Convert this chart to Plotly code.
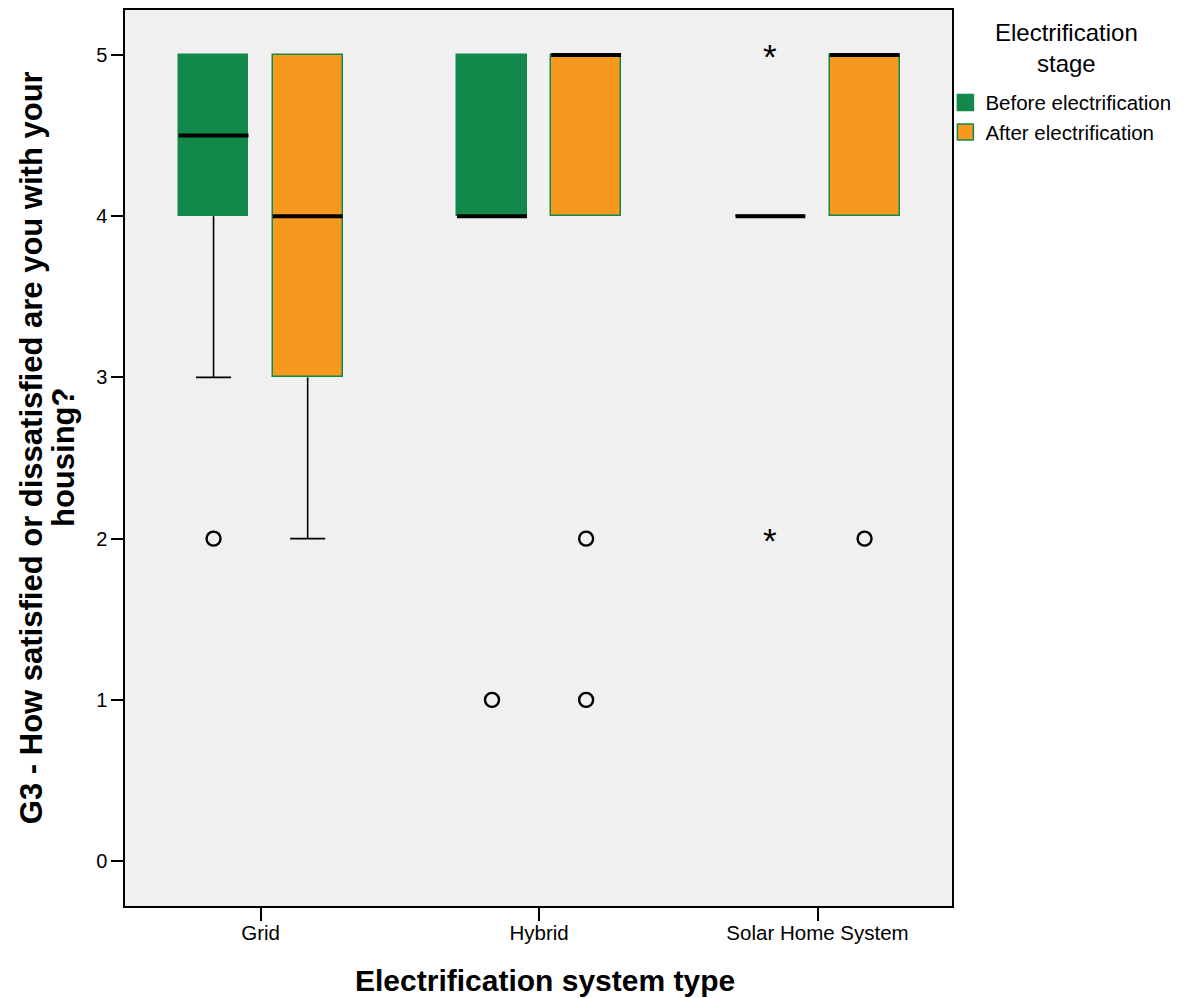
import plotly.graph_objects as go

# ---------------- data ----------------
categories = ["Grid", "Hybrid", "Solar Home System"]
stages = ["Before electrification", "After electrification"]

before_q1 = [4, 4, 4]
before_median = [4.5, 4, 4]
before_q3 = [5, 5, 4]
before_low = [3, 4, 4]
before_high = [5, 5, 4]

after_q1 = [3, 4, 4]
after_median = [4, 5, 5]
after_q3 = [5, 5, 5]
after_low = [2, 4, 4]
after_high = [5, 5, 5]

before_outlier_cat = ["Grid", "Hybrid"]
before_outlier_val = [2, 1]
before_extreme_cat = ["Solar Home System", "Solar Home System"]
before_extreme_val = [5, 2]
after_outlier_cat = ["Hybrid", "Hybrid", "Solar Home System"]
after_outlier_val = [2, 1, 2]

y_ticks = [0, 1, 2, 3, 4, 5]

x_title = "Electrification system type"
y_title_lines = ["G3 - How satisfied or dissatisfied are you with your", "housing?"]
legend_title = "Electrification<br>stage"

# ---------------- style ----------------
GREEN = "#12894A"
ORANGE = "#F8991F"
FONT = "Liberation Sans, Arial, sans-serif"
OFFSET = 0.169
BOX_W = 0.251
CAP_W = 0.126

fig = go.Figure()

groups = [
    (stages[0], before_q1, before_median, before_q3, before_low, before_high, GREEN, -OFFSET),
    (stages[1], after_q1, after_median, after_q3, after_low, after_high, ORANGE, OFFSET),
]

for name, q1, med, q3, low, high, fill, off in groups:
    pos = [i + off for i in range(len(categories))]
    # box bodies
    fig.add_trace(go.Bar(
        x=pos, y=[b - a for a, b in zip(q1, q3)], base=q1, width=BOX_W,
        marker=dict(color=fill, line=dict(color=GREEN, width=1.5)),
        showlegend=False, hoverinfo="skip", name=name,
    ))
    # whiskers
    wx, wy = [], []
    for p, a, b, lo, hi in zip(pos, q1, q3, low, high):
        if lo < a:
            wx += [p, p, None, p - CAP_W / 2, p + CAP_W / 2, None]
            wy += [lo, a, None, lo, lo, None]
        if hi > b:
            wx += [p, p, None, p - CAP_W / 2, p + CAP_W / 2, None]
            wy += [b, hi, None, hi, hi, None]
    if wx:
        fig.add_trace(go.Scatter(x=wx, y=wy, mode="lines",
                                 line=dict(color="black", width=1.6),
                                 showlegend=False, hoverinfo="skip"))
    # medians
    mx, my = [], []
    for p, m in zip(pos, med):
        mx += [p - BOX_W / 2, p + BOX_W / 2, None]
        my += [m, m, None]
    fig.add_trace(go.Scatter(x=mx, y=my, mode="lines",
                             line=dict(color="black", width=4),
                             showlegend=False, hoverinfo="skip"))
    # legend entry
    fig.add_trace(go.Scatter(x=[None], y=[None], mode="markers", name=name,
                             marker=dict(symbol="square", size=20, color=fill,
                                         line=dict(color=GREEN, width=1.5))))

# outliers (circles)
for cats, vals, off in [(before_outlier_cat, before_outlier_val, -OFFSET),
                        (after_outlier_cat, after_outlier_val, OFFSET)]:
    fig.add_trace(go.Scatter(
        x=[categories.index(c) + off for c in cats], y=vals, mode="markers",
        marker=dict(symbol="circle-open", size=14, color="black",
                    line=dict(color="black", width=2.4)),
        showlegend=False, hoverinfo="skip"))

annotations = []
# extremes (asterisks)
for c, v in zip(before_extreme_cat, before_extreme_val):
    annotations.append(dict(
        text="*", x=categories.index(c) - OFFSET, y=v, xref="x", yref="y",
        yshift=-2, xanchor="center", yanchor="middle", showarrow=False,
        font=dict(family=FONT, size=35, color="black")))

# axis titles
annotations.append(dict(
    text="<b>" + x_title + "</b>", xref="paper", yref="paper",
    x=0.508, y=0, yshift=-74, xanchor="center", yanchor="middle",
    showarrow=False, font=dict(family=FONT, size=30, color="black")))
for txt, xs, yp in zip(y_title_lines, [-94, -62], [0.511, 0.50]):
    annotations.append(dict(
        text="<b>" + txt + "</b>", xref="paper", yref="paper",
        x=0, xshift=xs, y=yp, xanchor="center", yanchor="middle",
        textangle=-90, showarrow=False,
        font=dict(family=FONT, size=31, color="black")))
# legend title
annotations.append(dict(
    text=legend_title, xref="paper", yref="paper", x=1.138, y=0.958,
    xanchor="center", yanchor="middle", align="center", showarrow=False,
    font=dict(family=FONT, size=24, color="black")))

fig.update_layout(
    width=1180, height=990,
    margin=dict(l=117, r=236, t=0, b=92),
    paper_bgcolor="white", plot_bgcolor="#F0F0F0",
    font=dict(family=FONT, color="black", size=20),
    showlegend=True,
    legend=dict(
        x=0.992, xanchor="left", y=0.919, yanchor="top",
        bgcolor="rgba(0,0,0,0)",
        font=dict(family=FONT, size=20.5, color="black"),
    ),
    xaxis=dict(
        range=[-0.487, 2.483], tickvals=list(range(len(categories))), ticktext=categories,
        showgrid=False, zeroline=False,
        showline=True, mirror=True, linecolor="black", linewidth=1.5,
        ticks="outside", ticklen=13, tickwidth=1.5, tickcolor="black",
        ticklabelstandoff=-5,
        tickfont=dict(family=FONT, size=20.5, color="black"),
    ),
    yaxis=dict(
        range=[-0.2785, 5.2785], tickvals=y_ticks,
        showgrid=False, zeroline=False,
        showline=True, mirror=True, linecolor="black", linewidth=1.5,
        ticks="outside", ticklen=12, tickwidth=1.5, tickcolor="black",
        tickfont=dict(family=FONT, size=20, color="black"),
    ),
    bargap=0,
    annotations=annotations,
)

fig.write_html("out.html")
